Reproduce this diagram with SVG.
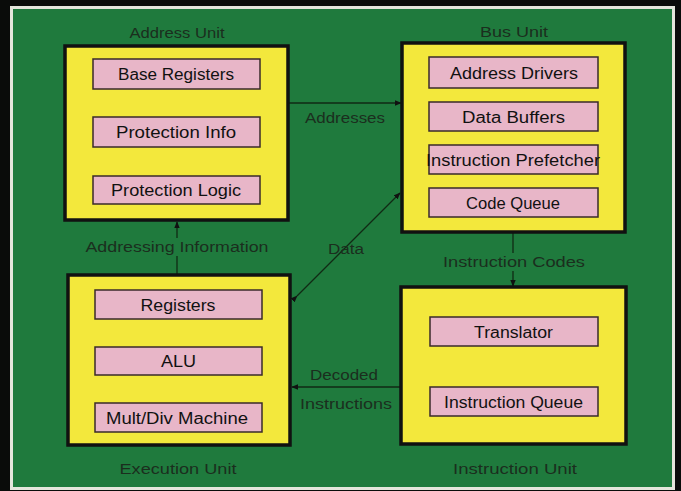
<svg xmlns="http://www.w3.org/2000/svg" width="681" height="491" viewBox="0 0 681 491">
<style>
.unit{fill:#f3e83c;stroke:#111;stroke-width:3.5}
.part{fill:#e8b6c8;stroke:#3a2a2a;stroke-width:1.5}
.pt{font-family:"Liberation Sans",Arial,sans-serif;font-size:16px;fill:#111;text-anchor:middle}
.lbl{font-family:"Liberation Sans",Arial,sans-serif;font-size:14px;fill:#1b2e1e;text-anchor:middle}
.conn{stroke:#102a14;stroke-width:1.3;fill:none}
</style>
<defs>
<marker id="ah" viewBox="0 0 10 10" refX="9" refY="5" markerWidth="7" markerHeight="7" orient="auto" markerUnits="userSpaceOnUse">
<path d="M0,1 L10,5 L0,9 Z" fill="#111"/>
</marker>
</defs>
<rect width="681" height="491" fill="#0a0c0a"/>
<rect x="11.5" y="7.5" width="662" height="481" fill="#1f7a3d" stroke="#e4e6dc" stroke-width="3"/>

<g id="connectors">
<line class="conn" x1="288" y1="103" x2="401" y2="103" marker-end="url(#ah)"/>
<line class="conn" x1="297" y1="296" x2="400" y2="193" marker-start="url(#ah)" marker-end="url(#ah)"/>
<line class="conn" x1="177" y1="275" x2="177" y2="222" marker-end="url(#ah)"/>
<line class="conn" x1="513" y1="233" x2="513" y2="286" marker-end="url(#ah)"/>
<line class="conn" x1="401" y1="387" x2="292" y2="387" marker-end="url(#ah)"/>
</g>

<g id="connector-labels">
<rect x="83" y="238" width="188" height="18" fill="#1f7a3d"/>
<text class="lbl" x="177" y="252" textLength="183" lengthAdjust="spacingAndGlyphs">Addressing Information</text>
<text class="lbl" x="345" y="123" textLength="80" lengthAdjust="spacingAndGlyphs">Addresses</text>
<text class="lbl" x="346" y="254" textLength="36" lengthAdjust="spacingAndGlyphs">Data</text>
<rect x="440" y="253" width="146" height="18" fill="#1f7a3d"/>
<text class="lbl" x="514" y="267" textLength="142" lengthAdjust="spacingAndGlyphs">Instruction Codes</text>
<text class="lbl" x="344" y="380" textLength="68" lengthAdjust="spacingAndGlyphs">Decoded</text>
<text class="lbl" x="346" y="409" textLength="92" lengthAdjust="spacingAndGlyphs">Instructions</text>
</g>

<g id="address-unit">
<text class="lbl" x="177" y="38" textLength="95" lengthAdjust="spacingAndGlyphs">Address Unit</text>
<rect class="unit" x="65" y="46" width="223" height="174"/>
<rect class="part" x="93" y="59" width="167" height="30"/>
<text class="pt" x="176" y="80" textLength="116" lengthAdjust="spacingAndGlyphs">Base Registers</text>
<rect class="part" x="93" y="117" width="167" height="30"/>
<text class="pt" x="176" y="138" textLength="120" lengthAdjust="spacingAndGlyphs">Protection Info</text>
<rect class="part" x="93" y="176" width="167" height="28"/>
<text class="pt" x="176" y="196" textLength="130" lengthAdjust="spacingAndGlyphs">Protection Logic</text>
</g>

<g id="bus-unit">
<text class="lbl" x="514" y="37" textLength="68" lengthAdjust="spacingAndGlyphs">Bus Unit</text>
<rect class="unit" x="402" y="43" width="223" height="189"/>
<rect class="part" x="429" y="57" width="169" height="31"/>
<text class="pt" x="514" y="79" textLength="128" lengthAdjust="spacingAndGlyphs">Address Drivers</text>
<rect class="part" x="429" y="102" width="169" height="29"/>
<text class="pt" x="513.5" y="123" textLength="103" lengthAdjust="spacingAndGlyphs">Data Buffers</text>
<rect class="part" x="429" y="145" width="169" height="29"/>
<text class="pt" x="513" y="166" textLength="174" lengthAdjust="spacingAndGlyphs">Instruction Prefetcher</text>
<rect class="part" x="429" y="188" width="169" height="29"/>
<text class="pt" x="513" y="209" textLength="94" lengthAdjust="spacingAndGlyphs">Code Queue</text>
</g>

<g id="execution-unit">
<rect class="unit" x="68" y="275" width="222" height="170"/>
<rect class="part" x="95" y="290" width="167" height="29"/>
<text class="pt" x="178" y="311" textLength="75" lengthAdjust="spacingAndGlyphs">Registers</text>
<rect class="part" x="95" y="347" width="167" height="28"/>
<text class="pt" x="178.5" y="367" textLength="35" lengthAdjust="spacingAndGlyphs">ALU</text>
<rect class="part" x="95" y="403" width="167" height="29"/>
<text class="pt" x="177" y="424" textLength="142" lengthAdjust="spacingAndGlyphs">Mult/Div Machine</text>
<text class="lbl" x="178" y="474" textLength="117" lengthAdjust="spacingAndGlyphs">Execution Unit</text>
</g>

<g id="instruction-unit">
<rect class="unit" x="401" y="287" width="225" height="157"/>
<rect class="part" x="430" y="317" width="168" height="29"/>
<text class="pt" x="513.5" y="338" textLength="79" lengthAdjust="spacingAndGlyphs">Translator</text>
<rect class="part" x="430" y="387" width="168" height="29"/>
<text class="pt" x="513.5" y="408" textLength="139" lengthAdjust="spacingAndGlyphs">Instruction Queue</text>
<text class="lbl" x="515" y="474" textLength="124" lengthAdjust="spacingAndGlyphs">Instruction Unit</text>
</g>
</svg>
